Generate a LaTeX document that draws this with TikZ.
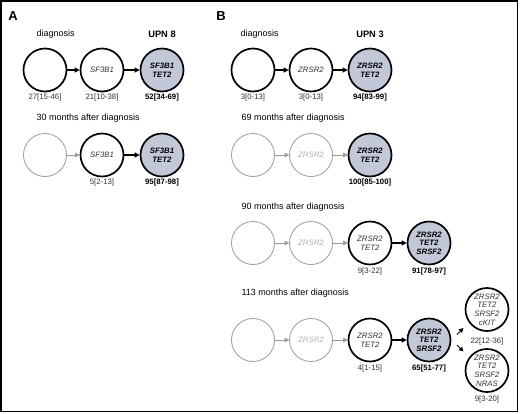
\documentclass[tikz,border=0pt]{standalone}
\usepackage{fontspec}
\setmainfont{Liberation Sans}
\usetikzlibrary{arrows.meta}
\definecolor{clone}{HTML}{C2C8D8}
\definecolor{faded}{HTML}{9A9A9A}
\definecolor{ink}{HTML}{333333}

\begin{document}
\begin{tikzpicture}[x=1pt,y=-1pt,
  cell/.style={circle,draw=black,line width=1.7pt,minimum size=43pt,inner sep=0pt,align=center,
    font=\fontsize{7.8}{8.6}\selectfont\itshape,text=ink},
  ghost/.style={cell,draw=faded,line width=0.8pt,text=faded!80},
  major/.style={cell,fill=clone,font=\fontsize{7.8}{8.6}\selectfont\bfseries\itshape,text=black},
  vaf/.style={font=\fontsize{7.8}{9}\selectfont,text=ink},
  vafb/.style={font=\fontsize{7.8}{9}\selectfont\bfseries,text=black},
  head/.style={anchor=west,font=\fontsize{9}{10}\selectfont},
  upn/.style={font=\fontsize{9.3}{10}\selectfont\bfseries},
  panel/.style={font=\fontsize{13}{14}\selectfont\bfseries},
  link/.style={-{Triangle[length=5pt,width=5pt]},line width=1.3pt},
  flink/.style={-{Triangle[length=4.5pt,width=4.5pt]},draw=faded,fill=faded,line width=0.8pt}]

 \useasboundingbox (0,0) rectangle (520,413);
 \draw[line width=1.5pt] (1,1) rectangle (517.5,411.5);

 \node[panel] (pa) at (13,16) {A};
 \node[panel] (pb) at (221,16) {B};

 % panel A
 \node[head] (ha1) at (33,34) {diagnosis};
 \node[upn] (upn8) at (162,34) {UPN 8};
 \node[cell] (a11) at (45,70) {};
 \node[cell] (a12) at (102,70) {SF3B1};
 \node[major] (a13) at (162,70) {SF3B1\\TET2};
 \node[vaf] (v11) at (45,97) {27[15-46]};
 \node[vaf] (v12) at (102,97) {21[10-38]};
 \node[vafb] (v13) at (162,97) {52[34-69]};
 \draw[link] (a11) -- (a12);
 \draw[link] (a12) -- (a13);

 \node[head] (ha2) at (33,118) {30 months after diagnosis};
 \node[ghost] (a21) at (45,155) {};
 \node[cell] (a22) at (102,155) {SF3B1};
 \node[major] (a23) at (162,155) {SF3B1\\TET2};
 \node[vaf] (v22) at (102,182) {5[2-13]};
 \node[vafb] (v23) at (162,182) {95[87-98]};
 \draw[flink] (a21) -- (a22);
 \draw[link] (a22) -- (a23);

 % panel B
 \node[head] (hb1) at (237,34) {diagnosis};
 \node[upn] (upn3) at (370,34) {UPN 3};
 \node[cell] (b11) at (253,70) {};
 \node[cell] (b12) at (311,70) {ZRSR2};
 \node[major] (b13) at (370,70) {ZRSR2\\TET2};
 \node[vaf] (w11) at (253,97) {3[0-13]};
 \node[vaf] (w12) at (311,97) {3[0-13]};
 \node[vafb] (w13) at (370,97) {94[83-99]};
 \draw[link] (b11) -- (b12);
 \draw[link] (b12) -- (b13);

 \foreach \r/\hy/\cy/\txt in {2/118/155/69,3/207/243/90,4/293/340/113} {
  \node[head] (hb\r) at (238,\hy) {\txt{} months after diagnosis};
  \node[ghost] (b\r1) at (253,\cy) {};
  \node[ghost] (b\r2) at (311,\cy) {ZRSR2};
  \draw[flink] (b\r1) -- (b\r2);
 }
 \node[major] (b23) at (370,155) {ZRSR2\\TET2};
 \node[vafb] (w23) at (370,182) {100[85-100]};
 \draw[flink] (b22) -- (b23);

 \node[cell] (b33) at (370,243) {ZRSR2\\TET2};
 \node[major] (b34) at (429,243) {ZRSR2\\TET2\\SRSF2};
 \node[vaf] (w33) at (370,271) {9[3-22]};
 \node[vafb] (w34) at (429,271) {91[78-97]};
 \draw[flink] (b32) -- (b33);
 \draw[link] (b33) -- (b34);

 \node[cell] (b43) at (370,340) {ZRSR2\\TET2};
 \node[major] (b44) at (429,340) {ZRSR2\\TET2\\SRSF2};
 \node[vaf] (w43) at (370,368) {4[1-15]};
 \node[vafb] (w44) at (429,368) {65[51-77]};
 \draw[flink] (b42) -- (b43);
 \draw[link] (b43) -- (b44);

 \node[cell] (b45) at (487,309.5) {ZRSR2\\TET2\\SRSF2\\cKIT};
 \node[cell] (b46) at (487,370.5) {ZRSR2\\TET2\\SRSF2\\NRAS};
 \node[vaf] (w45) at (487,341.5) {22[12-36]};
 \node[vaf] (w46) at (487,399.5) {9[3-20]};
 \coordinate (up0) at (457,334.5);
 \coordinate (up1) at (463.5,328);
 \coordinate (dn0) at (457,345);
 \coordinate (dn1) at (463.5,351.5);
 \draw[-{Triangle[length=4.5pt,width=4.5pt]},line width=0.9pt] (up0) -- (up1);
 \draw[-{Triangle[length=4.5pt,width=4.5pt]},line width=0.9pt] (dn0) -- (dn1);
\end{tikzpicture}
\end{document}
